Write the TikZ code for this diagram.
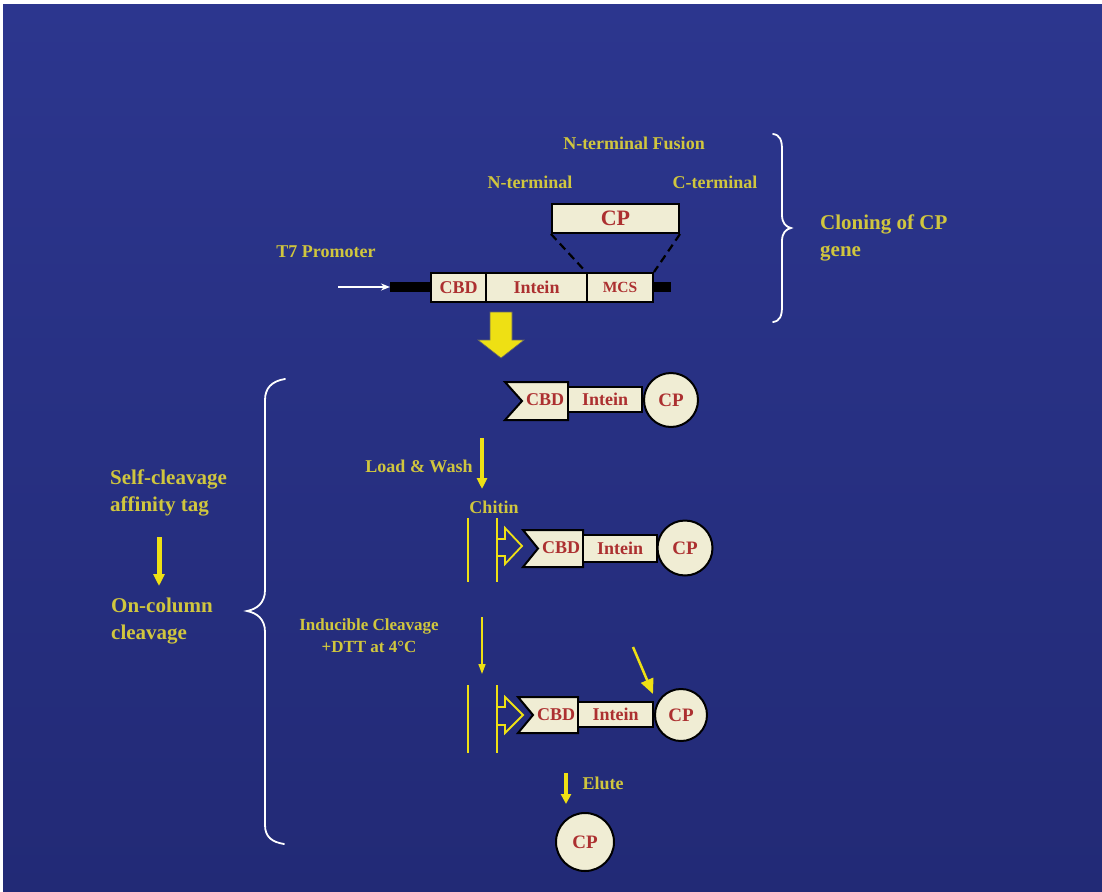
\documentclass[tikz,border=0pt]{standalone}
\usepackage{fontspec}
\setmainfont{Liberation Serif}
\usetikzlibrary{arrows.meta}
\definecolor{bgT}{RGB}{44,54,142}
\definecolor{bgB}{RGB}{34,42,118}
\definecolor{labyel}{RGB}{208,198,62}
\definecolor{arryel}{RGB}{238,224,20}
\definecolor{txtred}{RGB}{172,48,48}
\definecolor{cream}{RGB}{240,237,212}
\tikzset{
  ylab/.style={text=labyel, font=\fontsize{18}{22}\selectfont\bfseries, inner sep=0pt},
  biglab/.style={text=labyel, font=\fontsize{21}{27}\selectfont\bfseries, inner sep=0pt, align=left},
  gbox/.style={draw=black, fill=cream, line width=2pt, inner sep=0pt, text=txtred, font=\fontsize{18}{20}\selectfont\bfseries},
  gshape/.style={draw=black, fill=cream, line width=2pt, line join=miter},
  redt/.style={text=txtred, font=\fontsize{18}{20}\selectfont\bfseries, inner sep=0pt},
  cpc/.style={circle, draw=black, fill=cream, line width=2pt, inner sep=0pt, text=txtred, font=\fontsize{19}{20}\selectfont\bfseries},
  chit/.style={draw=arryel, line width=1.8pt},
  brc/.style={draw=white, line width=1.8pt, line cap=round},
  dashlink/.style={line width=2.2pt, dash pattern=on 8pt off 5pt},
}
\begin{document}
\begin{tikzpicture}[x=1pt,y=-1pt]
% background
\fill[white] (0,0) rectangle (1102,891);
\shade[top color=bgT, bottom color=bgB] (3,5) rectangle (1102,891);
\useasboundingbox (0,0) rectangle (1102,891);

% ---------- construct ----------
\node[ylab] (fusion) at (634,143) {N-terminal Fusion};
\node[ylab] (nterm) at (530,182) {N-terminal};
\node[ylab] (cterm) at (715,182) {C-terminal};
\node[ylab] (t7) at (326,252) {T7 Promoter};

\coordinate (barL) at (390,287);
\coordinate (barR) at (671,287);
\coordinate (prom) at (338,287);
\draw[line width=10pt, black] (barL) -- (barR);
\draw[white, line width=2.2pt, -{Stealth[length=9pt,width=7pt]}] (prom) -- (barL);

\node[gbox, minimum width=55pt, minimum height=29pt] (cbd0) at (458.5,287.5) {CBD};
\node[gbox, minimum width=101pt, minimum height=29pt] (int0) at (536.5,287.5) {Intein};
\node[gbox, minimum width=66pt, minimum height=29pt, font=\fontsize{15.5}{18}\selectfont\bfseries] (mcs0) at (620,287.5) {MCS};
\node[gbox, minimum width=127pt, minimum height=29pt, font=\fontsize{22}{24}\selectfont\bfseries] (cp0) at (615.5,218.5) {CP};
\draw[dashlink] (cp0.south west) -- (mcs0.north west);
\draw[dashlink] (cp0.south east) -- (mcs0.north east);

% right brace and label
\draw[brc] (773,134) .. controls (780,135) and (782,140) .. (782,150) -- (782,215)
  .. controls (782,223) and (786,227) .. (791,228)
  .. controls (786,229) and (782,233) .. (782,241) -- (782,306)
  .. controls (782,316) and (780,321) .. (773,322);
\node[biglab, anchor=west] (cloning) at (820,238) {Cloning of CP\\gene};

% big yellow arrow
\fill[arryel, draw=black!60, line width=0.6pt] (490,312) -- (512,312) -- (512,340) -- (524,340) -- (501,358) -- (478,340) -- (490,340) -- cycle;

% ---------- row 2 ----------
\draw[gshape] (505,382) -- (568,382) -- (568,420) -- (505,420) -- (522,401) -- cycle;
\node[redt] (cbd1) at (545,400) {CBD};
\node[gbox, minimum width=74pt, minimum height=25pt] (int1) at (605,399.5) {Intein};
\node[cpc, minimum size=54pt] (cp1) at (671,400) {CP};

% load & wash
\coordinate (lw1) at (482,438);
\coordinate (lw2) at (482,489);
\draw[arryel, line width=4pt, -{Triangle[length=11pt,width=10pt]}] (lw1) -- (lw2);
\node[ylab] (load) at (419,466) {Load \& Wash};
\node[ylab] (chitin) at (494,507) {Chitin};

% ---------- row 3 ----------
\draw[chit] (468,518) -- (468,582);
\draw[chit] (497,518) -- (497,582);
\draw[chit] (497,539) -- (505,539) -- (505,528) -- (522,546) -- (505,564) -- (505,556) -- (497,556);
\draw[gshape] (523,530) -- (583,530) -- (583,567) -- (523,567) -- (538,548.5) -- cycle;
\node[redt] (cbd2) at (561,548) {CBD};
\node[gbox, minimum width=74pt, minimum height=27pt] (int2) at (620,548.5) {Intein};
\node[cpc, minimum size=55pt] (cp2) at (685,548) {CP};

% inducible cleavage
\coordinate (ic1) at (482,617);
\coordinate (ic2) at (482,674);
\draw[arryel, line width=1.6pt, -{Triangle[length=10pt,width=7pt]}] (ic1) -- (ic2);
\node[ylab, align=center, font=\fontsize{17}{22}\selectfont\bfseries] (induc) at (369,636) {Inducible Cleavage\\+DTT at 4°C};

% ---------- row 4 ----------
\draw[chit] (468,685) -- (468,753);
\draw[chit] (497,685) -- (497,753);
\draw[chit] (497,707) -- (505,707) -- (505,697) -- (523,715) -- (505,733) -- (505,725) -- (497,725);
\draw[gshape] (518,697) -- (578,697) -- (578,733) -- (518,733) -- (533,715) -- cycle;
\node[redt] (cbd3) at (556,715) {CBD};
\node[gbox, minimum width=75pt, minimum height=25pt] (int3) at (615.5,714.5) {Intein};
\node[cpc, minimum size=52pt] (cp3) at (681,715) {CP};
\coordinate (cut1) at (633,647);
\coordinate (cut2) at (653,694);
\draw[arryel, line width=2.5pt, -{Triangle[length=15pt,width=13pt]}] (cut1) -- (cut2);

% elute
\coordinate (el1) at (566,773);
\coordinate (el2) at (566,804);
\draw[arryel, line width=4pt, -{Triangle[length=10pt,width=10pt]}] (el1) -- (el2);
\node[ylab] (elute) at (603,783) {Elute};
\node[cpc, minimum size=58pt] (cp4) at (585,842) {CP};

% ---------- left side ----------
\draw[brc] (285,379) .. controls (272,381) and (265,388) .. (265,400) -- (265,590)
  .. controls (265,603) and (257,609) .. (247,611)
  .. controls (257,613) and (265,619) .. (265,632) -- (265,825)
  .. controls (265,837) and (272,842) .. (284,844);
\node[biglab, anchor=west] (self) at (110,493) {Self-cleavage\\affinity tag};
\node[biglab, anchor=west] (oncol) at (111,621) {On-column\\cleavage};
\coordinate (la1) at (159,537);
\coordinate (la2) at (159,586);
\draw[arryel, line width=5pt, -{Triangle[length=12pt,width=11pt]}] (la1) -- (la2);
\end{tikzpicture}
\end{document}
